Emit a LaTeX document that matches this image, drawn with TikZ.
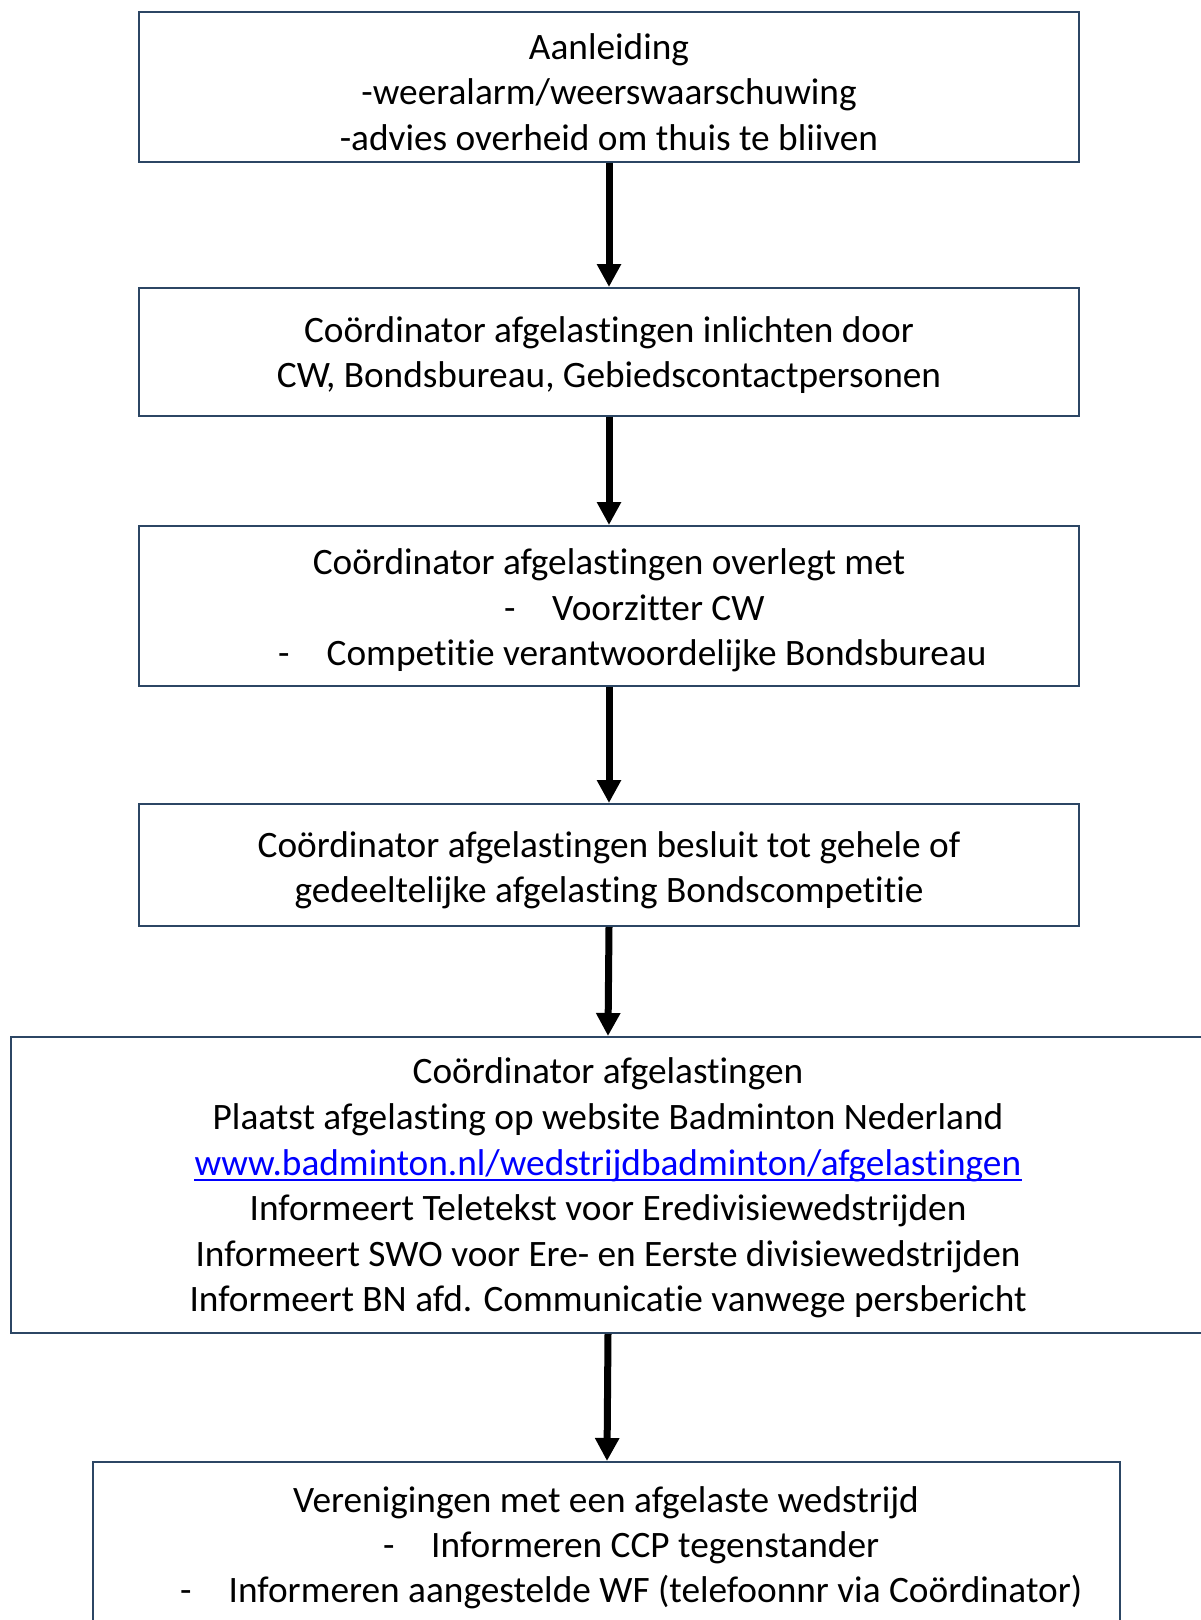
\documentclass[tikz,border=0pt]{standalone}
\usepackage{fontspec}
\setmainfont{Carlito}[Ligatures={NoCommon}]
\usetikzlibrary{arrows.meta}
\definecolor{boxline}{RGB}{44,70,100}
\definecolor{linkblue}{RGB}{0,0,255}
\tikzset{
  box/.style={draw=boxline, line width=2pt, fill=white, rectangle, inner sep=0pt},
  txt/.style={inner sep=0pt, anchor=base, font=\fontsize{37.3}{44}\selectfont},
  txtw/.style={inner sep=0pt, anchor=base west, font=\fontsize{37.3}{44}\selectfont},
  arr/.style={line width=7pt, -{Triangle[length=23pt,width=23pt]}}
}
\begin{document}
\begin{tikzpicture}[x=1pt,y=-1pt]
\useasboundingbox (0,0) rectangle (1201,1620);
% boxes
\node[box, minimum width=940pt, minimum height=149.5pt] (b1) at (609,86.75) {};
\node[box, minimum width=940pt, minimum height=127.5pt] (b2) at (609,351.75) {};
\node[box, minimum width=940pt, minimum height=160pt] (b3) at (609,606) {};
\node[box, minimum width=940pt, minimum height=122pt] (b4) at (609,865) {};
\node[box, minimum width=1204pt, minimum height=296pt] (b5) at (612.85,1185) {};
\node[box, minimum width=1027pt, minimum height=200pt] (b6) at (606.5,1562) {};
% arrows
\draw[arr] (b1.south) -- (b2.north);
\draw[arr] (b2.south) -- (b2.south |- b3.north);
\draw[arr] (b3.south) -- (b3.south |- b4.north);
\draw[arr] (b4.south) -- ([xshift=-1pt]b4.south |- b5.north);
\draw[arr] ([xshift=-1pt]b4.south |- b5.south) -- ([xshift=-2pt]b4.south |- b6.north);
% box 1 text
\node[txt] (t11) at (609,59) {Aanleiding};
\node[txt] (t12) at (609,104.5) {-weeralarm/weerswaarschuwing};
\node[txt] (t13) at (609,150) {-advies overheid om thuis te bliiven};
% box 2 text
\node[txt] (t21) at (609,342) {Coördinator afgelastingen inlichten door};
\node[txt] (t22) at (609,387) {CW, Bondsbureau, Gebiedscontactpersonen};
% box 3 text
\node[txt] (t31) at (609,574) {Coördinator afgelastingen overlegt met};
\node[txtw] (d32) at (504,620) {-};
\node[txtw] (t32) at (552,620) {Voorzitter CW};
\node[txtw] (d33) at (278,665) {-};
\node[txtw] (t33) at (326.5,665) {Competitie verantwoordelijke Bondsbureau};
% box 4 text
\node[txt] (t41) at (609,857.5) {Coördinator afgelastingen besluit tot gehele of};
\node[txt] (t42) at (609,902) {gedeeltelijke afgelasting Bondscompetitie};
% box 5 text
\node[txt] (t51) at (608,1083) {Coördinator afgelastingen};
\node[txt] (t52) at (608,1129) {Plaatst afgelasting op website Badminton Nederland};
\node[txt, text=linkblue] (t53) at (608,1175) {www.badminton.nl/wedstrijdbadminton/afgelastingen};
\draw[linkblue, line width=2pt] ([yshift=-5pt]t53.base west) -- ([yshift=-5pt]t53.base east);
\node[txt] (t54) at (608,1220) {Informeert Teletekst voor Eredivisiewedstrijden};
\node[txt] (t55) at (608,1266) {Informeert SWO voor Ere- en Eerste divisiewedstrijden};
\node[txt] (t56) at (608,1311) {Informeert BN afd. Communicatie vanwege persbericht};
% box 6 text
\node[txt] (t61) at (606,1512) {Verenigingen met een afgelaste wedstrijd};
\node[txtw] (d62) at (383,1557) {-};
\node[txtw] (t62) at (431,1557) {Informeren CCP tegenstander};
\node[txtw] (d63) at (180,1602) {-};
\node[txtw] (t63) at (228.5,1602) {Informeren aangestelde WF (telefoonnr via Coördinator)};
\end{tikzpicture}
\end{document}
